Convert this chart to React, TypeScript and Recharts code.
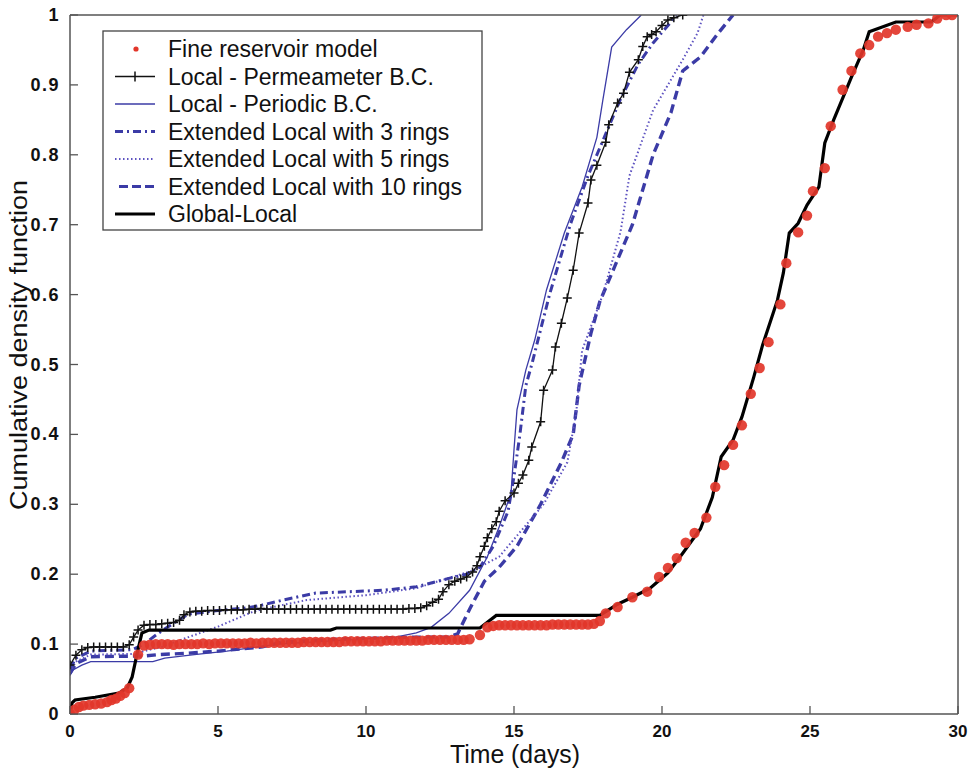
import React from 'react';
import { ComposedChart, Line, Scatter, XAxis, YAxis } from 'recharts';

type P = [number, number];

const xTicks = [0, 5, 10, 15, 20, 25, 30];
const yTicks = [0, 0.1, 0.2, 0.3, 0.4, 0.5, 0.6, 0.7, 0.8, 0.9, 1];

const legendLabels = [
  'Fine reservoir model',
  'Local - Permeameter B.C.',
  'Local - Periodic B.C.',
  'Extended Local with 3 rings',
  'Extended Local with 5 rings',
  'Extended Local with 10 rings',
  'Global-Local',
];

const fineReservoir: P[] = [
  [0, 0], [0.15, 0.006], [0.3, 0.01], [0.45, 0.012], [0.65, 0.013], [0.85, 0.014], [1.05, 0.015],
  [1.25, 0.017], [1.4, 0.02], [1.55, 0.022], [1.7, 0.026], [1.85, 0.03], [2.0, 0.037], [2.3, 0.085],
  [2.5, 0.098], [2.7, 0.099], [2.9, 0.1], [3.1, 0.1], [3.3, 0.1], [3.5, 0.099], [3.7, 0.1], [3.9, 0.1],
  [4.1, 0.1], [4.3, 0.1], [4.5, 0.101], [4.7, 0.1], [4.9, 0.101], [5.1, 0.101], [5.3, 0.101], [5.5, 0.101],
  [5.7, 0.101], [5.9, 0.101], [6.1, 0.102], [6.3, 0.101], [6.5, 0.102], [6.7, 0.102], [6.9, 0.102],
  [7.1, 0.102], [7.3, 0.102], [7.5, 0.102], [7.7, 0.102], [7.9, 0.103], [8.1, 0.103], [8.3, 0.103],
  [8.5, 0.103], [8.7, 0.103], [8.9, 0.103], [9.1, 0.103], [9.3, 0.104], [9.5, 0.104], [9.7, 0.104],
  [9.9, 0.104], [10.1, 0.104], [10.3, 0.104], [10.5, 0.104], [10.7, 0.105], [10.9, 0.105], [11.1, 0.105],
  [11.3, 0.105], [11.5, 0.105], [11.7, 0.105], [11.9, 0.105], [12.1, 0.106], [12.3, 0.106], [12.5, 0.106],
  [12.7, 0.106], [12.9, 0.106], [13.1, 0.106], [13.3, 0.106], [13.5, 0.107], [13.85, 0.113], [14.1, 0.124],
  [14.3, 0.126], [14.5, 0.127], [14.7, 0.127], [14.9, 0.127], [15.1, 0.127], [15.3, 0.127], [15.5, 0.127],
  [15.7, 0.127], [15.9, 0.127], [16.1, 0.127], [16.3, 0.128], [16.5, 0.128], [16.7, 0.128], [16.9, 0.128],
  [17.1, 0.128], [17.3, 0.128], [17.5, 0.128], [17.7, 0.129], [17.9, 0.133], [18.1, 0.144], [18.5, 0.153],
  [19.0, 0.167], [19.5, 0.175], [19.9, 0.196], [20.2, 0.209], [20.5, 0.223], [20.8, 0.245], [21.1, 0.259],
  [21.5, 0.281], [21.8, 0.325], [22.1, 0.356], [22.4, 0.385], [22.7, 0.413], [23.0, 0.458], [23.3, 0.495],
  [23.6, 0.532], [24.0, 0.586], [24.2, 0.645], [24.6, 0.689], [24.9, 0.713], [25.1, 0.748], [25.5, 0.781],
  [25.7, 0.841], [26.1, 0.893], [26.4, 0.92], [26.7, 0.945], [27.0, 0.957], [27.3, 0.969], [27.6, 0.974],
  [27.9, 0.979], [28.3, 0.983], [28.6, 0.986], [29.0, 0.988], [29.3, 0.995], [29.6, 1.0], [29.8, 1.0],
];

const permeameter: P[] = [
  [0, 0.07], [0.2, 0.084], [0.4, 0.092], [0.6, 0.095], [0.8, 0.096], [1.0, 0.096], [1.2, 0.096],
  [1.4, 0.096], [1.6, 0.096], [1.8, 0.096], [2.0, 0.099], [2.15, 0.11], [2.3, 0.12], [2.5, 0.127],
  [2.7, 0.128], [2.9, 0.128], [3.1, 0.129], [3.3, 0.13], [3.5, 0.131], [3.7, 0.134], [3.85, 0.142],
  [4.05, 0.146], [4.25, 0.147], [4.45, 0.147], [4.65, 0.148], [4.85, 0.148], [5.05, 0.148], [5.25, 0.149],
  [5.45, 0.149], [5.65, 0.149], [5.85, 0.149], [6.05, 0.15], [6.25, 0.15], [6.45, 0.151], [6.65, 0.15],
  [6.85, 0.15], [7.05, 0.15], [7.25, 0.15], [7.45, 0.15], [7.65, 0.15], [7.85, 0.15], [8.05, 0.15],
  [8.25, 0.15], [8.45, 0.15], [8.65, 0.15], [8.85, 0.15], [9.05, 0.15], [9.25, 0.15], [9.45, 0.15],
  [9.65, 0.15], [9.85, 0.15], [10.05, 0.15], [10.25, 0.15], [10.45, 0.15], [10.65, 0.15], [10.85, 0.15],
  [11.05, 0.15], [11.25, 0.15], [11.45, 0.151], [11.65, 0.151], [11.85, 0.152], [12.05, 0.155],
  [12.25, 0.16], [12.45, 0.164], [12.6, 0.175], [12.8, 0.185], [13.0, 0.19], [13.2, 0.193], [13.4, 0.196],
  [13.6, 0.203], [13.75, 0.212], [13.85, 0.225], [14.0, 0.24], [14.1, 0.252], [14.25, 0.265], [14.4, 0.275],
  [14.5, 0.29], [14.7, 0.305], [15.0, 0.316], [15.15, 0.33], [15.3, 0.342], [15.5, 0.363], [15.6, 0.382],
  [15.9, 0.418], [16.0, 0.463], [16.3, 0.492], [16.4, 0.525], [16.6, 0.559], [16.8, 0.595], [17.0, 0.635],
  [17.2, 0.688], [17.5, 0.731], [17.6, 0.764], [17.8, 0.785], [18.1, 0.818], [18.2, 0.843], [18.5, 0.874],
  [18.7, 0.888], [18.9, 0.918], [19.2, 0.936], [19.35, 0.955], [19.5, 0.969], [19.65, 0.972], [19.8, 0.976],
  [20.0, 0.985], [20.2, 0.993], [20.4, 0.996], [20.7, 1.0],
];

const periodic: P[] = [
  [0, 0.055], [0.1, 0.063], [0.4, 0.07], [0.7, 0.075], [2.8, 0.075], [3.2, 0.08], [4.2, 0.085],
  [5.3, 0.09], [7.0, 0.1], [9.0, 0.105], [11.0, 0.11], [11.7, 0.116], [12.2, 0.124], [12.8, 0.144],
  [13.5, 0.177], [14.1, 0.225], [14.5, 0.268], [14.9, 0.316], [15.0, 0.378], [15.1, 0.435], [15.4, 0.492],
  [15.7, 0.535], [16.1, 0.607], [16.7, 0.688], [17.3, 0.754], [17.8, 0.825], [18.0, 0.878], [18.3, 0.954],
  [18.8, 0.979], [19.3, 1.0],
];

const rings3: P[] = [
  [0, 0.065], [0.2, 0.08], [0.7, 0.09], [2.1, 0.092], [2.5, 0.1], [3.0, 0.116], [3.5, 0.13], [4.0, 0.143],
  [5.0, 0.148], [6.0, 0.152], [6.5, 0.156], [7.2, 0.163], [8.3, 0.173], [10.6, 0.177], [11.7, 0.182],
  [12.8, 0.194], [13.4, 0.2], [13.85, 0.21], [14.3, 0.24], [14.8, 0.29], [15.0, 0.34], [15.2, 0.4],
  [15.4, 0.47], [15.6, 0.5], [16.2, 0.6], [16.9, 0.7], [17.5, 0.77], [18.0, 0.82], [18.6, 0.88],
  [19.2, 0.93], [19.7, 0.96], [20.5, 1.0],
];

const rings5: P[] = [
  [0, 0.06], [0.2, 0.075], [0.7, 0.085], [2.2, 0.086], [2.5, 0.09], [3.1, 0.096], [4.0, 0.11],
  [5.0, 0.125], [6.1, 0.145], [6.5, 0.15], [8.0, 0.163], [10.0, 0.17], [11.7, 0.18], [12.6, 0.192],
  [13.6, 0.205], [14.5, 0.225], [15.2, 0.26], [16.0, 0.3], [16.8, 0.36], [17.1, 0.43], [17.3, 0.52],
  [18.0, 0.6], [18.6, 0.69], [18.9, 0.77], [19.7, 0.864], [20.2, 0.9], [20.7, 0.936], [21.2, 0.974],
  [21.4, 1.0],
];

const rings10: P[] = [
  [0, 0.058], [0.2, 0.072], [0.7, 0.082], [2.5, 0.083], [3.0, 0.085], [4.0, 0.087], [5.0, 0.09],
  [6.5, 0.096], [7.2, 0.103], [9.0, 0.107], [11.7, 0.11], [12.8, 0.11], [13.1, 0.115], [13.5, 0.15],
  [14.0, 0.19], [14.5, 0.21], [15.1, 0.24], [15.9, 0.3], [16.6, 0.36], [17.0, 0.4], [17.2, 0.47],
  [17.6, 0.545], [17.9, 0.59], [18.4, 0.64], [19.0, 0.7], [19.7, 0.8], [20.3, 0.86], [20.7, 0.92],
  [21.3, 0.94], [21.9, 0.974], [22.4, 1.0],
];

const globalLocal: P[] = [
  [0, 0], [0.07, 0.016], [0.17, 0.02], [0.85, 0.024], [1.65, 0.03], [1.93, 0.037], [2.1, 0.053],
  [2.27, 0.087], [2.43, 0.116], [2.67, 0.12], [5.0, 0.12], [8.8, 0.12], [9.0, 0.123], [13.85, 0.123],
  [14.4, 0.141], [17.9, 0.141], [18.5, 0.157], [19.0, 0.167], [19.6, 0.18], [20.2, 0.202], [20.7, 0.23],
  [21.3, 0.265], [21.7, 0.31], [22.0, 0.368], [22.4, 0.392], [22.7, 0.425], [23.1, 0.482], [23.4, 0.528],
  [23.9, 0.592], [24.1, 0.631], [24.3, 0.688], [24.6, 0.702], [24.9, 0.728], [25.3, 0.754], [25.5, 0.817],
  [25.8, 0.85], [26.4, 0.911], [26.8, 0.95], [27.0, 0.976], [27.9, 0.99], [29.1, 0.99], [29.4, 1.0], [30, 1.0],
];

const toRows = (pts: P[]) => pts.map(([x, y]) => ({ x, y }));

const FONT = '"Liberation Sans", Arial, Helvetica, sans-serif';
const AXIS = '#555';
const BLUE = '#3b3ba6';
const DOTBLUE = '#5d52c0';
const RED = '#e2362a';

const W = 972;
const H = 769;

const BottomTick = (props: any) => {
  const { x, y, payload } = props;
  return (
    <g>
      <line x1={x} x2={x} y1={y} y2={y - 8} stroke={AXIS} strokeWidth={1.3} />
      <text x={x} y={y + 23} textAnchor="middle" fontFamily={FONT} fontWeight="bold" fontSize={17} fill="#111">
        {payload.value}
      </text>
    </g>
  );
};

const TopTick = (props: any) => {
  const { x, y } = props;
  return <line x1={x} x2={x} y1={y} y2={y + 8} stroke={AXIS} strokeWidth={1.3} />;
};

const LeftTick = (props: any) => {
  const { x, y, payload } = props;
  return (
    <g>
      <line x1={x} x2={x + 8} y1={y} y2={y} stroke={AXIS} strokeWidth={1.3} />
      <text x={x - 10} y={y + 6} textAnchor="end" fontFamily={FONT} fontWeight="bold" fontSize={18} fill="#111" letterSpacing={1.5}>
        {payload.value}
      </text>
    </g>
  );
};

const RightTick = (props: any) => {
  const { x, y } = props;
  return <line x1={x} x2={x - 9} y1={y} y2={y} stroke={AXIS} strokeWidth={1.3} />;
};

const plusDot = (props: any) => {
  const { cx, cy, index } = props;
  if (cx == null || cy == null) return <g key={`p${index}`} />;
  const s = 4.5;
  return (
    <path
      key={`p${index}`}
      d={`M${cx - s},${cy}H${cx + s}M${cx},${cy - s}V${cy + s}`}
      stroke="#111"
      strokeWidth={1.5}
      fill="none"
    />
  );
};

const redDot = (props: any) => {
  const { cx, cy } = props;
  return <circle cx={cx} cy={cy} r={5.2} fill={RED} fillOpacity={0.92} />;
};

const Legend = () => {
  const x0 = 103, y0 = 31, w = 379, h = 199;
  const rowY = (i: number) => 49 + i * 27.5;
  const sx1 = 115, sx2 = 155;
  return (
    <g>
      <rect x={x0} y={y0} width={w} height={h} fill="#fff" stroke="#444" strokeWidth={1.3} />
      <circle cx={136} cy={rowY(0)} r={2.6} fill={RED} />
      <line x1={sx1} x2={sx2} y1={rowY(1)} y2={rowY(1)} stroke="#111" strokeWidth={1.5} />
      <path d={`M135,${rowY(1) - 5}V${rowY(1) + 5}`} stroke="#111" strokeWidth={1.5} />
      <line x1={sx1} x2={sx2} y1={rowY(2)} y2={rowY(2)} stroke={BLUE} strokeWidth={1.3} />
      <line x1={sx1} x2={sx2} y1={rowY(3)} y2={rowY(3)} stroke={BLUE} strokeWidth={3} strokeDasharray="8 4 2 4" />
      <line x1={sx1} x2={sx2} y1={rowY(4)} y2={rowY(4)} stroke={DOTBLUE} strokeWidth={2} strokeDasharray="1.5 2.5" />
      <line x1={sx1 + 4} x2={sx2} y1={rowY(5)} y2={rowY(5)} stroke={BLUE} strokeWidth={3.2} strokeDasharray="9 4" />
      <line x1={sx1} x2={sx2} y1={rowY(6)} y2={rowY(6)} stroke="#000" strokeWidth={3.2} />
      {legendLabels.map((t, i) => (
        <text key={t} x={168} y={rowY(i) + 8} fontFamily={FONT} fontSize={23} fill="#111">
          {t}
        </text>
      ))}
    </g>
  );
};

export default function App() {
  return (
    <div style={{ position: 'absolute', left: 0, top: 0, width: W, height: H, background: '#fff' }}>
      <ComposedChart
        width={W}
        height={H}
        margin={{ top: 14, right: 13, bottom: 15, left: 10 }}
      >
        <XAxis
          type="number"
          dataKey="x"
          domain={[0, 30]}
          ticks={xTicks}
          interval={0}
          height={40}
          tickLine={false}
          tickSize={0}
          tickMargin={0}
          axisLine={{ stroke: AXIS, strokeWidth: 1.5 }}
          tick={<BottomTick />}
          allowDataOverflow
        />
        <XAxis
          xAxisId="top"
          orientation="top"
          type="number"
          dataKey="x"
          domain={[0, 30]}
          ticks={xTicks}
          interval={0}
          height={1}
          tickLine={false}
          tickSize={0}
          tickMargin={0}
          axisLine={{ stroke: AXIS, strokeWidth: 1.5 }}
          tick={<TopTick />}
        />
        <YAxis
          type="number"
          domain={[0, 1]}
          ticks={yTicks}
          interval={0}
          width={60}
          tickLine={false}
          tickSize={0}
          tickMargin={0}
          axisLine={{ stroke: AXIS, strokeWidth: 1.5 }}
          tick={<LeftTick />}
          allowDataOverflow
        />
        <YAxis
          yAxisId="right"
          orientation="right"
          type="number"
          domain={[0, 1]}
          ticks={yTicks}
          interval={0}
          width={1}
          tickLine={false}
          tickSize={0}
          tickMargin={0}
          axisLine={{ stroke: AXIS, strokeWidth: 1.5 }}
          tick={<RightTick />}
        />
        <Scatter data={toRows(fineReservoir)} dataKey="y" fill={RED} shape={redDot} isAnimationActive={false} />
        <Line data={toRows(rings10)} dataKey="y" type="linear" stroke={BLUE} strokeWidth={3.4} strokeDasharray="9 5" dot={false} isAnimationActive={false} />
        <Line data={toRows(rings5)} dataKey="y" type="linear" stroke={DOTBLUE} strokeWidth={2} strokeDasharray="1.5 2.5" dot={false} isAnimationActive={false} />
        <Line data={toRows(rings3)} dataKey="y" type="linear" stroke={BLUE} strokeWidth={3} strokeDasharray="8 4 2 4" dot={false} isAnimationActive={false} />
        <Line data={toRows(periodic)} dataKey="y" type="linear" stroke={BLUE} strokeWidth={1.3} dot={false} isAnimationActive={false} />
        <Line data={toRows(permeameter)} dataKey="y" type="linear" stroke="#111" strokeWidth={1.3} dot={plusDot} isAnimationActive={false} />
        <Line data={toRows(globalLocal)} dataKey="y" type="linear" stroke="#000" strokeWidth={3.2} dot={false} isAnimationActive={false} />
      </ComposedChart>
      <svg width={W} height={H} style={{ position: 'absolute', left: 0, top: 0, pointerEvents: 'none' }}>
        <Legend />
        <text
          x={0}
          y={0}
          transform="translate(27,345) rotate(-90)"
          textAnchor="middle"
          fontFamily={FONT}
          fontSize={23}
          fill="#111"
          textLength={330}
          lengthAdjust="spacingAndGlyphs"
        >
          Cumulative density function
        </text>
        <text
          x={515}
          y={763}
          textAnchor="middle"
          fontFamily={FONT}
          fontSize={25}
          fill="#111"
          textLength={130}
          lengthAdjust="spacingAndGlyphs"
        >
          Time (days)
        </text>
      </svg>
    </div>
  );
}
